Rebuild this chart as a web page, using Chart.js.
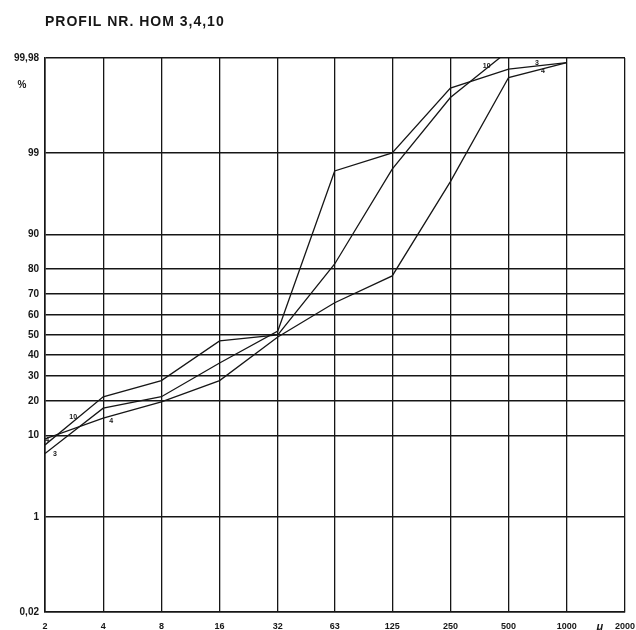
<!DOCTYPE html>
<html><head><meta charset="utf-8">
<script src="https://cdn.jsdelivr.net/npm/chart.js@4.4.1/dist/chart.umd.min.js"></script>
<style>html,body{margin:0;padding:0;background:#fff;} canvas{display:block;}</style>
</head><body>
<canvas id="c" width="636" height="630"></canvas>
<script>
// ---- data ----
const titleText = 'PROFIL NR. HOM 3,4,10';
const grainSizes = [2, 4, 8, 16, 32, 63, 125, 250, 500, 1000];
const xTickValues = [2, 4, 8, 16, 32, 63, 125, 250, 500, 1000, 2000];
const xTickLabels = ['2', '4', '8', '16', '32', '63', '125', '250', '500', '1000', '2000'];
const yTickValues = [0.02, 1, 10, 20, 30, 40, 50, 60, 70, 80, 90, 99, 99.98];
const yTickLabels = ['0,02', '1', '10', '20', '30', '40', '50', '60', '70', '80', '90', '99', '99,98'];
const series3 = [6.5, 17.5, 21.5, 36, 52, 98.2, 99.0, 99.92, 99.966, 99.975];
const series4 = [9.2, 14.4, 19.6, 28, 49, 66, 77.5, 97.5, 99.95, 99.975];
const series10 = [8.0, 21.5, 28, 47, 50, 81.8, 98.3, 99.88, 99.986, null];
const seriesNames = ['3', '4', '10'];
// curve tags (data-space anchors)
const tagTexts = ['3', '4', '10', '4', '10', '3', '4'];
const tagX = [2.25, 2.05, 2.8, 4.4, 385, 700, 753];
const tagY = [6.4, 9.0, 14.6, 13.6, 99.97, 99.975, 99.962];

// ---- probability (probit) scale ----
function probit(p) {
  p = Math.min(Math.max(p, 1e-12), 1 - 1e-12);
  const a = [-3.969683028665376e+01, 2.209460984245205e+02, -2.759285104469687e+02, 1.383577518672690e+02, -3.066479806614716e+01, 2.506628277459239e+00];
  const b = [-5.447609879822406e+01, 1.615858368580409e+02, -1.556989798598866e+02, 6.680131188771972e+01, -1.328068155288572e+01];
  const c = [-7.784894002430293e-03, -3.223964580411365e-01, -2.400758277161838e+00, -2.549671348000000e+00, 4.374664141464968e+00, 2.938163982698783e+00];
  const d = [7.784695709041462e-03, 3.224671290700398e-01, 2.445134137142996e+00, 3.754408661907416e+00];
  const pl = 0.02425, ph = 1 - pl;
  let q, r;
  if (p < pl) {
    q = Math.sqrt(-2 * Math.log(p));
    return (((((c[0]*q+c[1])*q+c[2])*q+c[3])*q+c[4])*q+c[5]) / ((((d[0]*q+d[1])*q+d[2])*q+d[3])*q+1);
  }
  if (p <= ph) {
    q = p - 0.5; r = q * q;
    return (((((a[0]*r+a[1])*r+a[2])*r+a[3])*r+a[4])*r+a[5])*q / (((((b[0]*r+b[1])*r+b[2])*r+b[3])*r+b[4])*r+1);
  }
  q = Math.sqrt(-2 * Math.log(1 - p));
  return -(((((c[0]*q+c[1])*q+c[2])*q+c[3])*q+c[4])*q+c[5]) / ((((d[0]*q+d[1])*q+d[2])*q+d[3])*q+1);
}
function normcdf(z) {
  const t = 1 / (1 + 0.3275911 * Math.abs(z) / Math.SQRT2);
  const y = 1 - (((((1.061405429*t - 1.453152027)*t) + 1.421413741)*t - 0.284496736)*t + 0.254829592)*t*Math.exp(-z*z/2);
  return z >= 0 ? (1 + y) / 2 : (1 - y) / 2;
}
class ProbitScale extends Chart.Scale {
  determineDataLimits() { this.min = this.options.min; this.max = this.options.max; }
  buildTicks() { return yTickValues.map(v => ({ value: v })); }
  configure() {
    super.configure();
    this._zmin = probit(this.min / 100);
    this._zmax = probit(this.max / 100);
  }
  getLabelForValue(v) { return String(v); }
  getPixelForValue(v) {
    if (v === null || v === undefined || isNaN(v)) return NaN;
    return this.getPixelForDecimal((probit(v / 100) - this._zmin) / (this._zmax - this._zmin));
  }
  getValueForPixel(px) {
    return 100 * normcdf(this._zmin + this.getDecimalForPixel(px) * (this._zmax - this._zmin));
  }
  getBasePixel() { return this.bottom; }
}
ProbitScale.id = 'probit';
ProbitScale.defaults = {};
Chart.register(ProbitScale);

const ink = '#161616';
const annot = {
  id: 'annot',
  afterDraw(chart) {
    const { ctx, chartArea, scales } = chart;
    const x = scales.x, y = scales.y;
    ctx.save();
    ctx.fillStyle = ink;
    ctx.textBaseline = 'middle';
    ctx.textAlign = 'left';
    ctx.font = 'bold 14px "Liberation Sans", Arial, sans-serif';
    try { ctx.letterSpacing = '1px'; } catch (e) {}
    ctx.fillText(titleText, chartArea.left, 22);
    try { ctx.letterSpacing = '0px'; } catch (e) {}
    ctx.textAlign = 'center';
    ctx.font = 'bold 10px "Liberation Sans", Arial, sans-serif';
    ctx.fillText('%', 22, 85);
    ctx.font = 'italic bold 11px "Liberation Sans", Arial, sans-serif';
    ctx.fillText('\u03BC', x.getPixelForValue(Math.sqrt(1000 * 2000)) + 4, chartArea.bottom + 15);
    ctx.font = 'bold 7px "Liberation Sans", Arial, sans-serif';
    for (let i = 0; i < tagTexts.length; i++) {
      ctx.fillText(tagTexts[i], x.getPixelForValue(tagX[i]), y.getPixelForValue(tagY[i]));
    }
    ctx.restore();
  }
};

function ds(name, values) {
  return {
    label: name,
    data: grainSizes.map((g, i) => ({ x: g, y: values[i] })),
    borderColor: ink,
    borderWidth: 1.3,
    pointRadius: 0,
    tension: 0,
    spanGaps: false
  };
}

new Chart(document.getElementById('c'), {
  type: 'line',
  data: { datasets: [ds(seriesNames[0], series3), ds(seriesNames[1], series4), ds(seriesNames[2], series10)] },
  options: {
    responsive: false,
    animation: false,
    layout: { padding: { top: 58, right: 11, left: 0, bottom: 0 } },
    plugins: { legend: { display: false }, tooltip: { enabled: false }, title: { display: false } },
    scales: {
      x: {
        type: 'logarithmic',
        min: 2, max: 2000,
        afterBuildTicks: s => { s.ticks = xTickValues.map(v => ({ value: v })); },
        afterFit: s => { s.height = 18; s.paddingLeft = 0; s.paddingRight = 0; },
        grid: { color: ink, lineWidth: 1.3, drawTicks: false },
        border: { color: ink, width: 1.6 },
        ticks: {
          autoSkip: false, maxRotation: 0, padding: 9,
          color: ink,
          font: { family: '"Liberation Sans", Arial, sans-serif', size: 9, weight: 'bold' },
          callback: (v, i) => xTickLabels[i]
        }
      },
      y: {
        type: 'probit',
        position: 'left',
        min: 0.02, max: 99.98,
        afterFit: s => { s.width = 45; },
        grid: { color: ink, lineWidth: 1.5, drawTicks: false },
        border: { color: ink, width: 1.6 },
        ticks: {
          autoSkip: false, padding: 6,
          color: ink,
          font: { family: '"Liberation Sans", Arial, sans-serif', size: 10, weight: 'bold' },
          callback: (v, i) => yTickLabels[i]
        }
      }
    }
  },
  plugins: [annot]
});
</script>
</body></html>
